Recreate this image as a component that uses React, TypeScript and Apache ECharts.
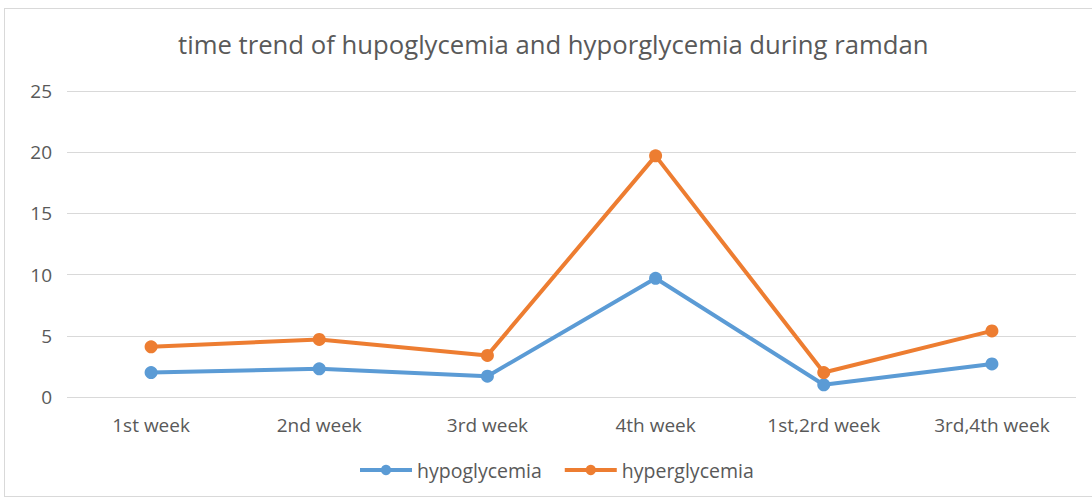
import React, { useEffect, useRef } from "react";
import * as echarts from "echarts";

const categories = ["1st week", "2nd week", "3rd week", "4th week", "1st,2rd week", "3rd,4th week"];
const hypoglycemia = [2.0, 2.3, 1.7, 9.7, 1.0, 2.7];
const hyperglycemia = [4.1, 4.7, 3.4, 19.7, 2.0, 5.4];
const titleText = "time trend of hupoglycemia and hyporglycemia during ramdan";

export default function App() {
  const ref = useRef<HTMLDivElement>(null);
  useEffect(() => {
    if (!ref.current) return;
    const chart = echarts.init(ref.current, undefined, { renderer: "svg" });
    const font = "'Open Sans', 'Noto Sans', sans-serif";
    const mkSeries = (name: string, data: number[], color: string) => ({
      name,
      type: "line",
      data,
      symbol: "circle",
      symbolSize: 13,
      lineStyle: { width: 4, color },
      itemStyle: { color },
    });
    chart.setOption({
      animation: false,
      backgroundColor: "transparent",
      title: {
        text: titleText,
        left: 178,
        top: 31,
        padding: 0,
        textStyle: { fontFamily: font, fontSize: 25.7, fontWeight: "normal", color: "#595959" },
      },
      legend: {
        bottom: 19,
        left: 358,
        padding: 0,
        itemWidth: 52,
        itemHeight: 13,
        itemGap: 21,
        lineStyle: { width: 4 },
        textStyle: { fontFamily: font, fontSize: 19.5, color: "#595959" },
        data: ["hypoglycemia", "hyperglycemia"],
      },
      grid: { left: 67, right: 16, top: 91, bottom: 102, containLabel: false },
      xAxis: {
        type: "category",
        data: categories,
        boundaryGap: true,
        axisLine: { show: false },
        axisTick: { show: false },
        axisLabel: { fontFamily: font, fontSize: 19, color: "#595959", margin: 18 },
      },
      yAxis: {
        type: "value",
        min: 0,
        max: 25,
        interval: 5,
        axisLine: { show: false },
        axisTick: { show: false },
        splitLine: { lineStyle: { color: "#d9d9d9", width: 1 } },
        axisLabel: { fontFamily: font, fontSize: 19, color: "#595959", margin: 15 },
      },
      series: [
        mkSeries("hypoglycemia", hypoglycemia, "#5B9BD5"),
        mkSeries("hyperglycemia", hyperglycemia, "#ED7D31"),
      ],
    });
    return () => chart.dispose();
  }, []);
  return (
    <div
      style={{
        position: "absolute",
        left: 0,
        top: 0,
        width: 1092,
        height: 499,
        background: "#fff",
      }}
    >
      <div ref={ref} style={{ position: "absolute", left: 0, top: 0, width: 1092, height: 499 }} />
      <div
        style={{
          position: "absolute",
          left: 4,
          top: 8,
          width: 1092,
          height: 489,
          border: "1px solid #d9d9d9",
          boxSizing: "border-box",
          pointerEvents: "none",
        }}
      />
    </div>
  );
}
